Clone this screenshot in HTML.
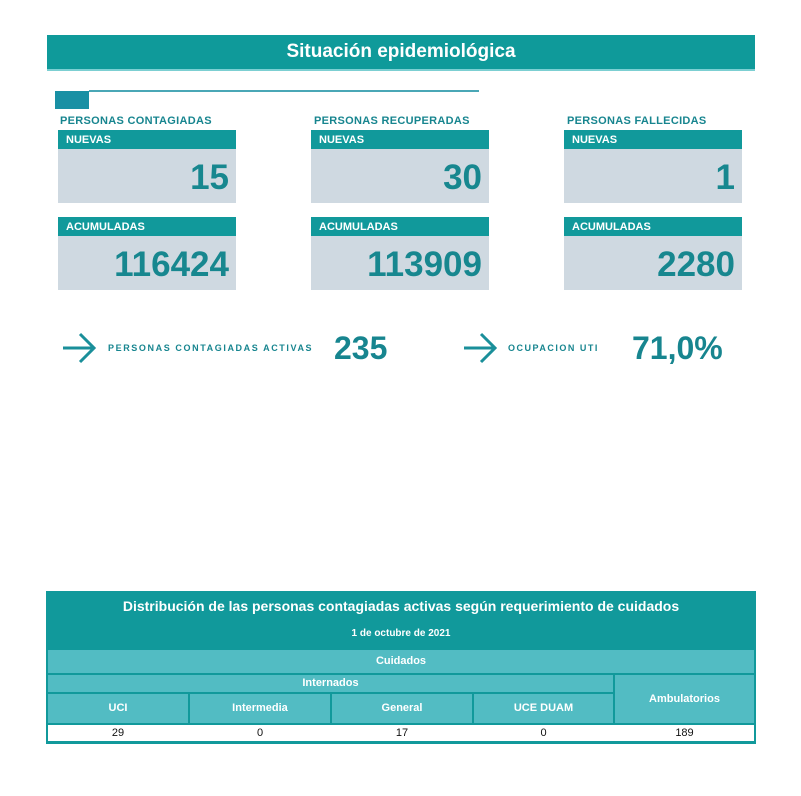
<!DOCTYPE html>
<html><head><meta charset="utf-8"><style>
body{margin:0;width:801px;height:796px;background:#fff;position:relative;overflow:hidden;font-family:"Liberation Sans",sans-serif;}
.a{position:absolute;}
.lbl{font-size:11px;font-weight:bold;color:#17858f;letter-spacing:0.3px;}
.hd{background:#11999b;color:#fff;font-size:11px;font-weight:bold;padding-left:8px;line-height:21px;box-sizing:border-box;}
.bx{background:#cfd9e1;color:#17878f;font-weight:bold;font-size:35px;text-align:right;padding-right:7px;box-sizing:border-box;}
.c{position:absolute;color:#fff;font-weight:bold;font-size:11px;text-align:center;background:#52bcc3;}
.d{position:absolute;font-size:11px;text-align:center;top:725px;height:16px;line-height:16px;color:#111;}
</style></head><body>
<div class="a" style="left:47px;top:35px;width:708px;height:34px;background:#0f9a9a;color:#fff;font-weight:bold;font-size:19px;text-align:center;line-height:34px;">Situación epidemiológica</div>
<div class="a" style="left:47px;top:69px;width:708px;height:2px;background:#7ccfd2;"></div>
<div class="a" style="left:55px;top:91px;width:34px;height:18px;background:#1990a4;"></div>
<div class="a" style="left:89px;top:90px;width:390px;height:2px;background:#4aa7b6;"></div>

<div class="a lbl" style="left:60px;top:115px;">PERSONAS CONTAGIADAS</div>
<div class="a lbl" style="left:314px;top:115px;">PERSONAS RECUPERADAS</div>
<div class="a lbl" style="left:567px;top:115px;">PERSONAS FALLECIDAS</div>

<div class="a hd" style="left:58px;top:130px;width:178px;height:19px;">NUEVAS</div>
<div class="a bx" style="left:58px;top:149px;width:178px;height:54px;line-height:58px;">15</div>
<div class="a hd" style="left:311px;top:130px;width:178px;height:19px;">NUEVAS</div>
<div class="a bx" style="left:311px;top:149px;width:178px;height:54px;line-height:58px;">30</div>
<div class="a hd" style="left:564px;top:130px;width:178px;height:19px;">NUEVAS</div>
<div class="a bx" style="left:564px;top:149px;width:178px;height:54px;line-height:58px;">1</div>

<div class="a hd" style="left:58px;top:217px;width:178px;height:19px;">ACUMULADAS</div>
<div class="a bx" style="left:58px;top:236px;width:178px;height:54px;line-height:58px;">116424</div>
<div class="a hd" style="left:311px;top:217px;width:178px;height:19px;">ACUMULADAS</div>
<div class="a bx" style="left:311px;top:236px;width:178px;height:54px;line-height:58px;">113909</div>
<div class="a hd" style="left:564px;top:217px;width:178px;height:19px;">ACUMULADAS</div>
<div class="a bx" style="left:564px;top:236px;width:178px;height:54px;line-height:58px;">2280</div>

<svg class="a" style="left:60px;top:330px" width="40" height="36"><path d="M3 18H33M20 4L34 18L20 32" stroke="#1a8f9a" stroke-width="3" fill="none"/></svg>
<div class="a" style="left:108px;top:343px;font-size:9px;font-weight:bold;color:#17858f;letter-spacing:1.6px;">PERSONAS CONTAGIADAS ACTIVAS</div>
<div class="a" style="left:334px;top:330px;font-size:32px;font-weight:bold;color:#17858f;">235</div>
<svg class="a" style="left:461px;top:330px" width="40" height="36"><path d="M3 18H33M20 4L34 18L20 32" stroke="#1a8f9a" stroke-width="3" fill="none"/></svg>
<div class="a" style="left:508px;top:343px;font-size:9px;font-weight:bold;color:#17858f;letter-spacing:1.5px;">OCUPACION UTI</div>
<div class="a" style="left:632px;top:330px;font-size:32px;font-weight:bold;color:#17858f;">71,0%</div>

<div class="a" style="left:46px;top:591px;width:710px;height:153px;background:#11999b;"></div>
<div class="a" style="left:47px;top:598px;width:708px;text-align:center;color:#fff;font-weight:bold;font-size:14px;">Distribución de las personas contagiadas activas según requerimiento de cuidados</div>
<div class="a" style="left:47px;top:628px;width:708px;text-align:center;color:#fff;font-weight:bold;font-size:10px;">1 de octubre de 2021</div>
<div class="c" style="left:48px;top:650px;width:706px;height:23px;line-height:23px;">Cuidados</div>
<div class="c" style="left:48px;top:675px;width:565px;height:17px;line-height:17px;">Internados</div>
<div class="c" style="left:615px;top:675px;width:139px;height:48px;line-height:48px;">Ambulatorios</div>
<div class="c" style="left:48px;top:694px;width:140px;height:29px;line-height:29px;">UCI</div>
<div class="c" style="left:190px;top:694px;width:140px;height:29px;line-height:29px;">Intermedia</div>
<div class="c" style="left:332px;top:694px;width:140px;height:29px;line-height:29px;">General</div>
<div class="c" style="left:474px;top:694px;width:139px;height:29px;line-height:29px;">UCE DUAM</div>
<div class="a" style="left:48px;top:725px;width:706px;height:16px;background:#fff;"></div>
<div class="d" style="left:48px;width:140px;">29</div>
<div class="d" style="left:190px;width:140px;">0</div>
<div class="d" style="left:332px;width:140px;">17</div>
<div class="d" style="left:474px;width:139px;">0</div>
<div class="d" style="left:615px;width:139px;">189</div>
</body></html>
